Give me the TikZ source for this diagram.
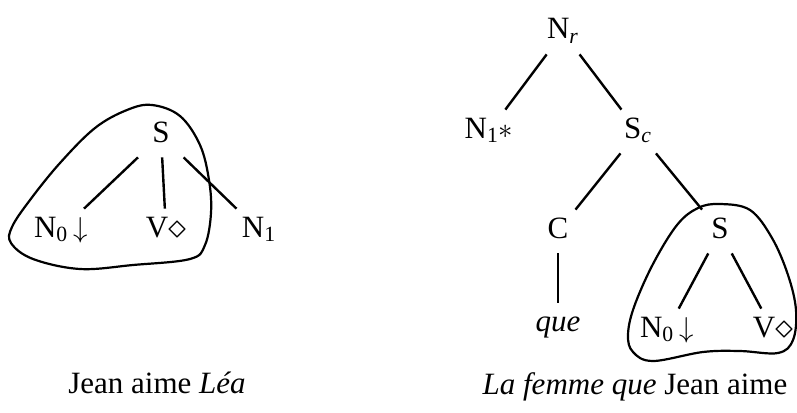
\documentclass[tikz,border=0pt]{standalone}
\usepackage{fontspec}
\setmainfont{Liberation Serif}
\usetikzlibrary{positioning}
\newcommand{\anchr}{\raisebox{-0.6pt}{\scalebox{1.25}{$\diamond$}}}

\begin{document}
\begin{tikzpicture}[
    x=0.5pt, y=-0.5pt,
    font=\fontsize{15.5}{18}\selectfont,
    lbl/.style={inner xsep=8pt, inner ysep=7pt, text height=0.7em, text depth=0.05em, anchor=base},
    edge/.style={line width=1.2pt},
    blob/.style={line width=1.1pt, smooth cycle, tension=0.6},
    caption/.style={anchor=base}
  ]
    \useasboundingbox (0,0) rectangle (797,412);
    \node[lbl] (sl) at (161,142) {S};
    \node[below left=47.5pt and 50pt of sl.base, lbl] (n0l) {N\textsubscript{0}\,$\downarrow$};
    \node[below right=47.5pt and 2.5pt of sl.base, lbl] (vl) {V\anchr};
    \node[below right=47.5pt and 49pt of sl.base, lbl] (n1l) {N\textsubscript{1}};
    \node[lbl] (nr) at (563,39) {N\textsubscript{\textit{r}}};
    \node[below left=49.5pt and 37pt of nr.base, lbl] (n1r) {N\textsubscript{1}$*$};
    \node[below right=49.5pt and 37.5pt of nr.base, lbl] (sc) {S\textsubscript{\textit{c}}};
    \node[below left=50pt and 40pt of sc.base, lbl] (cc) {C};
    \node[below right=50pt and 41pt of sc.base, lbl] (sr) {S};
    \node[below=46.5pt of cc.base, lbl] (que) {\textit{que}};
    \node[below left=49.5pt and 26.5pt of sr.base, lbl] (n0r) {N\textsubscript{0}\,$\downarrow$};
    \node[below right=49.5pt and 26.5pt of sr.base, lbl] (vr) {V\anchr};
    \node[caption] (capl) at (157,393) {Jean aime \textit{Léa}};
    \node[caption] (capr) at (635,394) {\textit{La femme que} Jean aime};
    \draw[edge] (sl) -- (n0l);
    \draw[edge] (sl) -- (vl);
    \draw[edge] (sl) -- (n1l);
    \draw[edge] (nr) -- (n1r);
    \draw[edge] (nr) -- (sc);
    \draw[edge] (sc) -- (cc);
    \draw[edge] (sc) -- (sr);
    \draw[edge] (cc) -- (que);
    \draw[edge] (sr) -- (n0r);
    \draw[edge] (sr) -- (vr);
    \draw[blob] plot coordinates {(152,105) (180,116) (200,145) (209,180) (211,213)
      (205,245) (190,259) (133,265) (80,269) (33,259) (11,243) (12,227)
      (30,200) (60,163) (95,128) (127,110)};
    \draw[blob] plot coordinates {(720,204) (750,210) (772,238) (788,275) (796,310)
      (793,340) (778,353) (740,351) (703,352) (653,361) (633,352) (628,335)
      (634,307) (653,264) (677,225) (698,208)};
\end{tikzpicture}
\end{document}
